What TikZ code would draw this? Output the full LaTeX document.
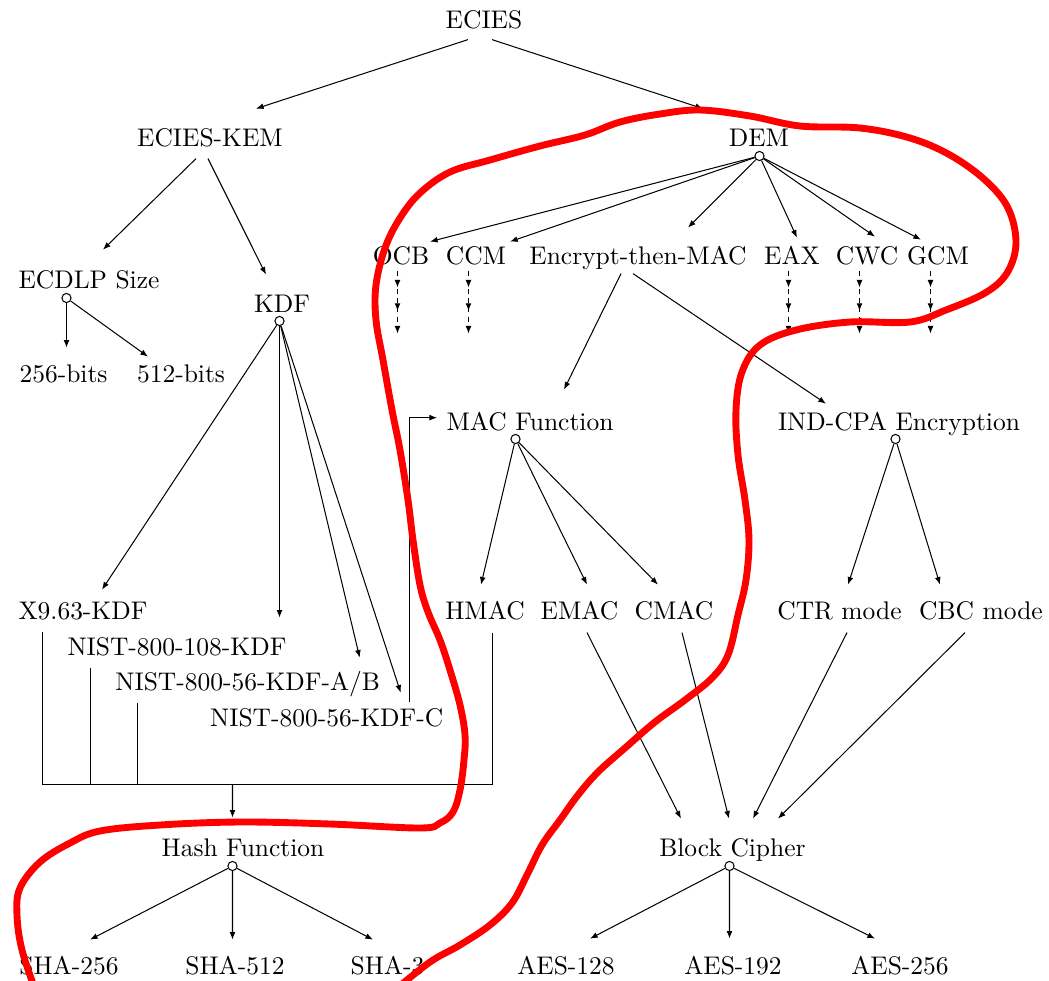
\documentclass[tikz,border=0pt]{standalone}
\usetikzlibrary{arrows.meta,calc,decorations.markings}
\begin{document}
\begin{tikzpicture}[x=0.3922pt,y=-0.3922pt,
  lbl/.style={inner sep=0pt, anchor=base, text height=7pt, text depth=2pt},
  hub/.style={circle, draw, inner sep=0pt, minimum size=3.6pt, fill=white},
  arr/.style={-{Latex[length=3pt,width=2.3pt]}},
  dasharr/.style={dash pattern=on 2pt off 1.6pt, -{Latex[length=3pt,width=2.3pt]},
    decoration={markings,
      mark=at position 0.27 with {\arrow{Latex[length=3pt,width=2.3pt]}},
      mark=at position 0.64 with {\arrow{Latex[length=3pt,width=2.3pt]}}},
    postaction={decorate}},
  scribble/.style={red, line width=2.7pt, line cap=round, line join=round}]
\useasboundingbox (0,0) rectangle (1049,980);

% nodes
\node[lbl] (ecies) at (484,28) {ECIES};
\node[lbl] (kem) at (210,146) {ECIES-KEM};
\node[lbl] (dem) at (759,146) {DEM};
\node[lbl] (ecdlp) at (89,288) {ECDLP Size};
\node[lbl] (kdf) at (282,312) {KDF};
\node[lbl] (b256) at (63.5,382) {256-bits};
\node[lbl] (b512) at (181,382) {512-bits};
\node[lbl] (ocb) at (401,264) {OCB};
\node[lbl] (ccm) at (476,264) {CCM};
\node[lbl] (etm) at (638,264) {Encrypt-then-MAC};
\node[lbl] (eax) at (792,264) {EAX};
\node[lbl] (cwc) at (867,264) {CWC};
\node[lbl] (gcm) at (938,264) {GCM};
\node[lbl] (macf) at (530,430) {MAC Function};
\node[lbl] (ind) at (899,430) {IND-CPA Encryption};
\node[lbl] (hmac) at (485,619) {HMAC};
\node[lbl] (emac) at (579.5,619) {EMAC};
\node[lbl] (cmac) at (674,619) {CMAC};
\node[lbl] (ctr) at (839.5,619) {CTR mode};
\node[lbl] (cbc) at (981,619) {CBC mode};
\node[lbl] (x963) at (83,619) {X9.63-KDF};
\node[lbl] (n108) at (177,655) {NIST-800-108-KDF};
\node[lbl] (nab) at (247.7,690) {NIST-800-56-KDF-A/B};
\node[lbl] (nc) at (326.7,726) {NIST-800-56-KDF-C};
\node[lbl] (hash) at (243,856) {Hash Function};
\node[lbl] (block) at (732.5,856) {Block Cipher};
\node[lbl] (sha256) at (69,974) {SHA-256};
\node[lbl] (sha512) at (235,974) {SHA-512};
\node[lbl] (sha3) at (387.5,974) {SHA-3};
\node[lbl] (aes128) at (566,974) {AES-128};
\node[lbl] (aes192) at (733,974) {AES-192};
\node[lbl] (aes256) at (900,974) {AES-256};

% hubs
\node[hub] (demc) at (759.5,156) {};
\node[hub] (ecdlpc) at (66.5,298) {};
\node[hub] (kdfc) at (279.5,321) {};
\node[hub] (macc) at (515.5,439) {};
\node[hub] (indc) at (895.5,439) {};
\node[hub] (hashc) at (232.5,866) {};
\node[hub] (blockc) at (729.5,866) {};

% top level
\draw[arr] ([shift={(-16,6)}]ecies.south) -- ([shift={(46,-19)}]kem.north);
\draw[arr] ([shift={(8,6)}]ecies.south) -- ([shift={(-56,-19)}]dem.north);
\draw[arr] ([shift={(-14,7)}]kem.south) -- ([shift={(14,-20)}]ecdlp.north);
\draw[arr] ([shift={(-2,7)}]kem.south) -- ([shift={(-16,-19)}]kdf.north);

% ECDLP
\draw[arr] (ecdlpc) -- ([shift={(3,-16)}]b256.north);
\draw[arr] (ecdlpc) -- ([shift={(-33,-7)}]b512.north);

% KDF
\draw[arr] (kdfc) -- ([shift={(19,-11)}]x963.north);
\draw[arr] (kdfc) -- ([shift={(102.5,-19)}]n108.north);
\draw[arr] (kdfc) -- ([shift={(112,-14)}]nab.north);
\draw[arr] (kdfc) -- ([shift={(74,-15)}]nc.north);

% DEM
\draw[arr] (demc) -- ([shift={(29,-4)}]ocb.north);
\draw[arr] (demc) -- ([shift={(34,-4)}]ccm.north);
\draw[arr] (demc) -- ([shift={(50,-18)}]etm.north);
\draw[arr] (demc) -- ([shift={(5,-8)}]eax.north);
\draw[arr] (demc) -- ([shift={(8,-9)}]cwc.north);
\draw[arr] (demc) -- ([shift={(-17,-6)}]gcm.north);

% dashed continuations
\foreach \n/\dx in {ocb/-3.5, ccm/-7.5, eax/-3.5, cwc/-7.5, gcm/-7.5}
  \draw[dasharr] ([shift={(\dx,1)}]\n.south) -- ([shift={(\dx,64)}]\n.south);

% Encrypt-then-MAC
\draw[arr] ([shift={(-17,4)}]etm.south) -- ([shift={(34,-22)}]macf.north);
\draw[arr] ([shift={(-5,4)}]etm.south) -- ([shift={(-73,-8)}]ind.north);

% MAC function
\draw[arr] (macc) -- ([shift={(-4,-16)}]hmac.north);
\draw[arr] (macc) -- ([shift={(7.5,-16)}]emac.north);
\draw[arr] (macc) -- ([shift={(-16,-16)}]cmac.north);

% IND-CPA
\draw[arr] (indc) -- ([shift={(8.5,-16)}]ctr.north);
\draw[arr] (indc) -- ([shift={(-41,-16)}]cbc.north);

% into Block Cipher
\draw[arr] ([shift={(7.5,8)}]emac.south) -- ([shift={(-51.5,-19)}]block.north);
\draw[arr] ([shift={(8,8)}]cmac.south) -- ([shift={(-3.5,-19)}]block.north);
\draw[arr] ([shift={(7.5,8)}]ctr.south) -- ([shift={(20.5,-19)}]block.north);
\draw[arr] ([shift={(-16,8)}]cbc.south) -- ([shift={(45.5,-19)}]block.north);

% NIST-C to MAC Function
\draw[arr] ([shift={(82.8,-6)}]nc.north) |- ([shift={(-9,-6)}]macf.west);

% bracket into Hash Function
\coordinate (join) at (232.5,784.5);
\path ([shift={(-40.5,7)}]x963.south) coordinate (bx)
      ([shift={(-86.5,7)}]n108.south) coordinate (bn)
      ([shift={(-110.2,7)}]nab.south) coordinate (bab)
      ([shift={(7.5,8)}]hmac.south) coordinate (bh);
\draw (bx) -- (bx |- join) -- (bh |- join) -- (bh);
\draw (bn) -- (bn |- join);
\draw (bab) -- (bab |- join);
\draw[arr] (join) -- ([shift={(-10.5,-20)}]hash.north);

% Hash Function
\draw[arr] (hashc) -- ([shift={(21,-16)}]sha256.north);
\draw[arr] (hashc) -- ([shift={(-2.5,-16)}]sha512.north);
\draw[arr] (hashc) -- ([shift={(-14.5,-16)}]sha3.north);

% Block Cipher
\draw[arr] (blockc) -- ([shift={(24,-17)}]aes128.north);
\draw[arr] (blockc) -- ([shift={(-3.5,-17)}]aes192.north);
\draw[arr] (blockc) -- ([shift={(-25,-17)}]aes256.north);

% red freehand loop
\begin{scope}
\clip (0,0) rectangle (1049,980);
\draw[scribble] plot[smooth, tension=0.6] coordinates {
 (36,992) (22,950) (17,915) (20,888) (40,862) (70,843) (100,831) (160,825)
 (240,822) (330,824) (420,828) (440,823) (453,812) (460,790) (464,760)
 (465,735) (460,705) (450,670) (440,640) (428,612) (420,585) (413,540)
 (408,500) (400,450) (392,410) (383,360) (376,320) (376,285) (385,248)
 (400,218) (420,193) (450,172) (490,160) (540,146) (585,135) (620,122)
 (660,114) (700,110) (750,116) (800,126) (860,128) (910,138) (950,155)
 (985,180) (1008,208) (1016,243) (1007,273) (985,293) (946,310) (910,322)
 (850,322) (796,330) (760,345) (742,372) (736,410) (738,455) (745,500)
 (749,540) (746,580) (738,615) (728,655) (712,678) (685,700) (655,722)
 (625,748) (598,772) (578,795) (560,820) (542,845) (527,875) (512,903)
 (490,925) (460,945) (430,962) (395,990)};
\end{scope}
\end{tikzpicture}
\end{document}
